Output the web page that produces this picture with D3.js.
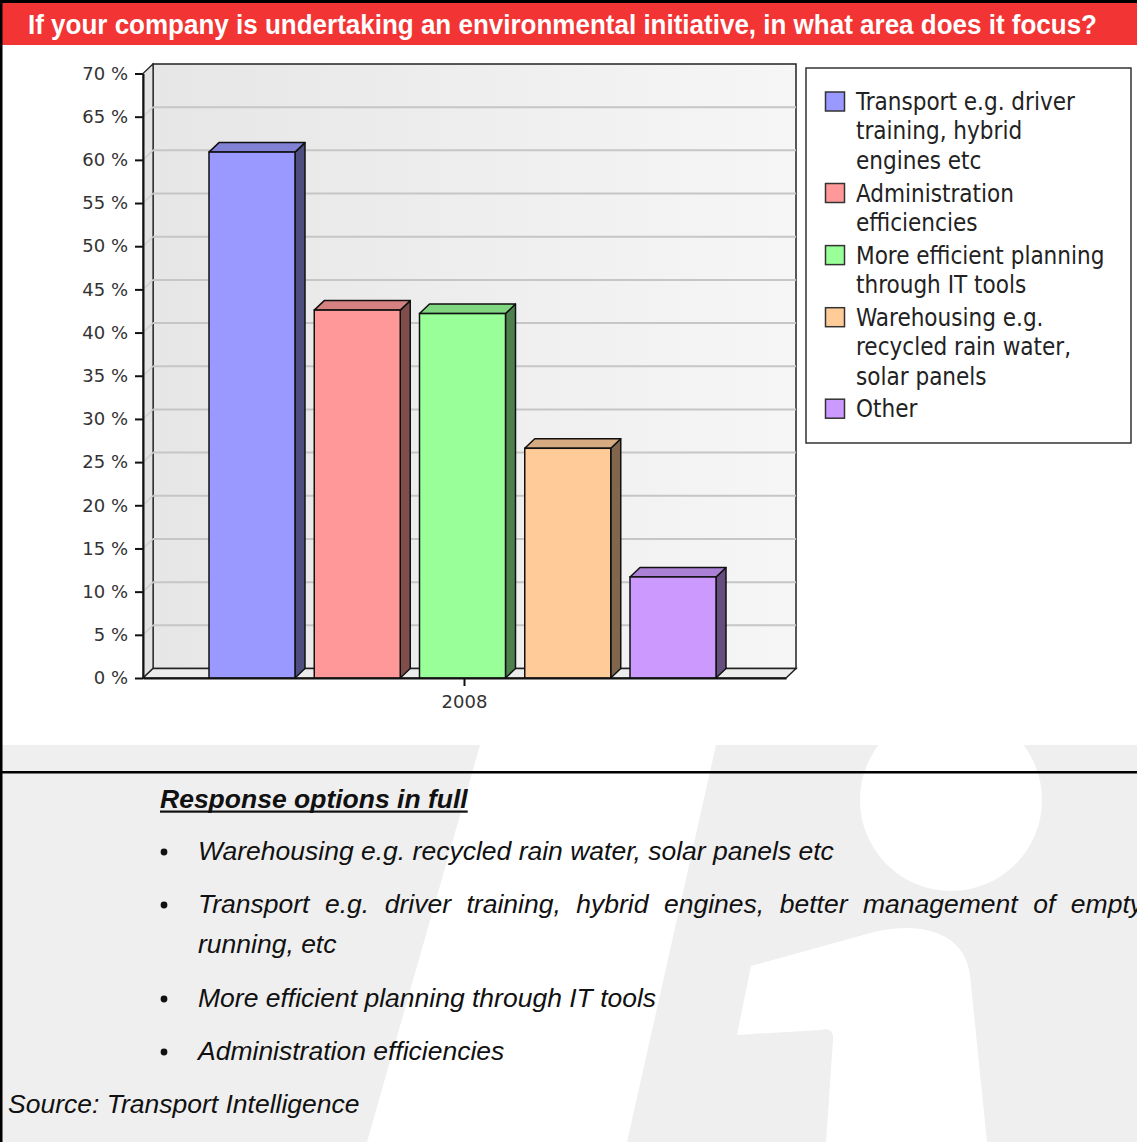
<!DOCTYPE html>
<html>
<head>
<meta charset="utf-8">
<script src="https://cdn.jsdelivr.net/npm/d3@7"></script>
<style>
  html, body { margin: 0; padding: 0; background: #fff; }
  svg { display: block; }
</style>
</head>
<body>
<svg id="chart" width="1137" height="1142"></svg>
<script>
// ---- data ----
const titleText = "If your company is undertaking an environmental initiative, in what area does it focus?";
const categories = ["2008"];
const seriesNames = [
  "Transport e.g. driver training, hybrid engines etc",
  "Administration efficiencies",
  "More efficient planning through IT tools",
  "Warehousing e.g. recycled rain water, solar panels",
  "Other"
];
const legendLines = [
  ["Transport e.g. driver", "training, hybrid", "engines etc"],
  ["Administration", "efficiencies"],
  ["More efficient planning", "through IT tools"],
  ["Warehousing e.g.", "recycled rain water,", "solar panels"],
  ["Other"]
];
const values2008 = [60.9, 42.6, 42.2, 26.6, 11.7];
const seriesColors = ["#9999ff", "#ff9999", "#99ff99", "#ffcc99", "#cc99ff"];
const yTicks = [0, 5, 10, 15, 20, 25, 30, 35, 40, 45, 50, 55, 60, 65, 70];
const notesHeading = "Response options in full";
const notes = [
  ["Warehousing e.g. recycled rain water, solar panels etc"],
  ["Transport e.g. driver training, hybrid engines, better management of empty", "running, etc"],
  ["More efficient planning through IT tools"],
  ["Administration efficiencies"]
];
const sourceText = "Source: Transport Intelligence";

// ---- setup ----
const W = 1137, H = 1142;
const svg = d3.select("#chart");
const defs = svg.append("defs");

// background watermark in the notes section
svg.append("rect").attr("x", 0).attr("y", 0).attr("width", W).attr("height", H).attr("fill", "#fff");
svg.append("rect").attr("x", 0).attr("y", 745).attr("width", W).attr("height", H - 745).attr("fill", "#efefef");
const mark = svg.append("g").attr("fill", "#fff");
mark.append("path").attr("d", "M480,745 L716,745 L627,1142 L367,1142 Z");
mark.append("circle").attr("cx", 951).attr("cy", 800).attr("r", 91);
mark.append("path").attr("d",
  "M751,966 L874,932 C925,920 965,935 970,975 L987,1142 L826,1142 L833,1040 C834,1030 828,1028 820,1030 L737,1035 Z");
svg.append("rect").attr("x", 0).attr("y", 0).attr("width", W).attr("height", 745).attr("fill", "#fff");

// title bar
svg.append("rect").attr("x", 0).attr("y", 3).attr("width", W).attr("height", 42).attr("fill", "#f23434");
svg.append("text")
  .attr("x", 28).attr("y", 34)
  .attr("textLength", 1069).attr("lengthAdjust", "spacingAndGlyphs")
  .style("font-family", "'Liberation Sans Narrow', 'Liberation Sans', Arial, sans-serif")
  .style("font-weight", "bold").style("font-size", "27px")
  .attr("fill", "#fff")
  .text(titleText);

// frame lines
svg.append("rect").attr("x", 0).attr("y", 0).attr("width", W).attr("height", 3).attr("fill", "#000");
svg.append("rect").attr("x", 0).attr("y", 0).attr("width", 2.5).attr("height", H).attr("fill", "#000");
svg.append("rect").attr("x", 0).attr("y", 771).attr("width", W).attr("height", 2.5).attr("fill", "#000");

// ---- 3D bar chart ----
const DX = 10, DY = 9.5;
const y = d3.scaleLinear().domain([0, 70]).range([678, 73.5]);
const x0 = d3.scaleBand().domain(categories).range([143, 786]);
const x1 = d3.scaleBand().domain(seriesNames).range([66, 573]).paddingInner(0.183);
const xL = x0.range()[0], xR = x0.range()[1];
const y0 = y(0), yTop = y(70);

const grad = defs.append("linearGradient").attr("id", "wallGrad").attr("x1", "0").attr("x2", "1").attr("y1", "0").attr("y2", "0");
grad.append("stop").attr("offset", "0%").attr("stop-color", "#e6e6e6");
grad.append("stop").attr("offset", "100%").attr("stop-color", "#f6f6f6");

const plot = svg.append("g");
// back wall
plot.append("rect")
  .attr("x", xL + DX).attr("y", yTop - DY)
  .attr("width", xR - xL).attr("height", y0 - yTop)
  .attr("fill", "url(#wallGrad)").attr("stroke", "#222").attr("stroke-width", 1.5);
// side wall
plot.append("path")
  .attr("d", `M${xL},${yTop} L${xL + DX},${yTop - DY} L${xL + DX},${y0 - DY} L${xL},${y0} Z`)
  .attr("fill", "#e3e3e3").attr("stroke", "#222").attr("stroke-width", 1.2);
// grid lines
const gridTicks = yTicks.filter(t => t > 0 && t < 70);
plot.selectAll("line.gb").data(gridTicks).join("line")
  .attr("x1", xL + DX).attr("x2", xR + DX)
  .attr("y1", d => y(d) - DY).attr("y2", d => y(d) - DY)
  .attr("stroke", "#c6c6c6").attr("stroke-width", 2);
plot.selectAll("line.gs").data(gridTicks).join("line")
  .attr("x1", xL).attr("x2", xL + DX)
  .attr("y1", d => y(d)).attr("y2", d => y(d) - DY)
  .attr("stroke", "#cfcfcf").attr("stroke-width", 1.5);
// floor
plot.append("path")
  .attr("d", `M${xL},${y0} L${xL + DX},${y0 - DY} L${xR + DX},${y0 - DY} L${xR},${y0} Z`)
  .attr("fill", "#ececec").attr("stroke", "#222").attr("stroke-width", 1.5);

// bars
const shade = (c, k) => { const r = d3.rgb(c); return d3.rgb(r.r * k, r.g * k, r.b * k).formatHex(); };
const barData = seriesNames.map((name, i) => ({ name, value: values2008[i], color: seriesColors[i] }));
const bars = plot.selectAll("g.bar").data(barData).join("g").attr("class", "bar");
bars.each(function (d) {
  const g = d3.select(this);
  const bx = x0(categories[0]) + x1(d.name);
  const bw = x1.bandwidth();
  const bt = y(d.value), bb = y(0);
  g.append("path")
    .attr("d", `M${bx + bw},${bt} L${bx + bw + DX},${bt - DY} L${bx + bw + DX},${bb - DY} L${bx + bw},${bb} Z`)
    .attr("fill", shade(d.color, 0.5)).attr("stroke", "#111").attr("stroke-width", 1.5).attr("stroke-linejoin", "round");
  g.append("path")
    .attr("d", `M${bx},${bt} L${bx + DX},${bt - DY} L${bx + bw + DX},${bt - DY} L${bx + bw},${bt} Z`)
    .attr("fill", shade(d.color, 0.84)).attr("stroke", "#111").attr("stroke-width", 1.5).attr("stroke-linejoin", "round");
  g.append("rect")
    .attr("x", bx).attr("y", bt).attr("width", bw).attr("height", bb - bt)
    .attr("fill", d.color).attr("stroke", "#111").attr("stroke-width", 1.5);
});

// y axis
const yAxis = d3.axisLeft(y).tickValues(yTicks).tickFormat(d => d + " %")
  .tickSize(8).tickSizeOuter(0).tickPadding(7);
const ya = svg.append("g").attr("transform", `translate(${xL},0)`).call(yAxis);
ya.select(".domain").attr("stroke", "#111").attr("stroke-width", 2);
ya.selectAll(".tick line").attr("stroke", "#111").attr("stroke-width", 2);
ya.selectAll(".tick text")
  .style("font-family", "'DejaVu Sans', Verdana, sans-serif").style("font-size", "18px")
  .attr("fill", "#333");

// x axis
const xAxis = d3.axisBottom(x0).tickSize(8).tickSizeOuter(0).tickPadding(9);
const xa = svg.append("g").attr("transform", `translate(0,${y0})`).call(xAxis);
xa.select(".domain").attr("stroke", "#111").attr("stroke-width", 2);
xa.selectAll(".tick line").attr("stroke", "#111").attr("stroke-width", 2);
xa.selectAll(".tick text")
  .style("font-family", "'DejaVu Sans', Verdana, sans-serif").style("font-size", "18px")
  .attr("fill", "#333");

// legend
const lg = svg.append("g");
lg.append("rect").attr("x", 806).attr("y", 68).attr("width", 325).attr("height", 375)
  .attr("fill", "#fff").attr("stroke", "#333").attr("stroke-width", 1.5);
const lineStep = 29.4, itemGap = 3.3;
let base = 110;
const legendFont = "'DejaVu Sans Condensed', 'DejaVu Sans', Verdana, sans-serif";
legendLines.forEach((lines, i) => {
  lg.append("rect").attr("x", 825.5).attr("y", base - 18).attr("width", 19).attr("height", 19)
    .attr("fill", seriesColors[i]).attr("stroke", "#333").attr("stroke-width", 1.5);
  lines.forEach((ln, j) => {
    lg.append("text").attr("x", 856).attr("y", base + j * lineStep)
      .style("font-family", legendFont).style("font-stretch", "condensed").style("font-size", "24px")
      .attr("fill", "#222").text(ln);
  });
  base += lines.length * lineStep + itemGap;
});

// ---- response notes ----
const noteFont = "'Liberation Sans', Arial, sans-serif";
const nt = svg.append("g").attr("fill", "#111")
  .style("font-family", noteFont).style("font-size", "26.5px").style("font-style", "italic");
const head = nt.append("text").attr("x", 160).attr("y", 808).style("font-weight", "bold").text(notesHeading);
const hl = head.node().getComputedTextLength();
nt.append("rect").attr("x", 160).attr("y", 810.5).attr("width", hl).attr("height", 2.2).attr("fill", "#111");

const noteBaselines = [[860], [913, 953], [1007], [1060]];
notes.forEach((lines, i) => {
  nt.append("circle").attr("cx", 164).attr("cy", noteBaselines[i][0] - 8).attr("r", 3.4).attr("fill", "#111");
  lines.forEach((ln, j) => {
    const t = nt.append("text").attr("x", 198).attr("y", noteBaselines[i][j]).text(ln);
    // justified first line of a wrapped paragraph, running past the right edge
    if (lines.length > 1 && j === 0) {
      const natural = t.node().getComputedTextLength();
      const spaces = ln.split(" ").length - 1;
      const target = 1143 - 198;
      t.attr("word-spacing", Math.max(0, (target - natural) / spaces));
    }
  });
});
nt.append("text").attr("x", 8).attr("y", 1113).text(sourceText);
</script>
</body>
</html>
